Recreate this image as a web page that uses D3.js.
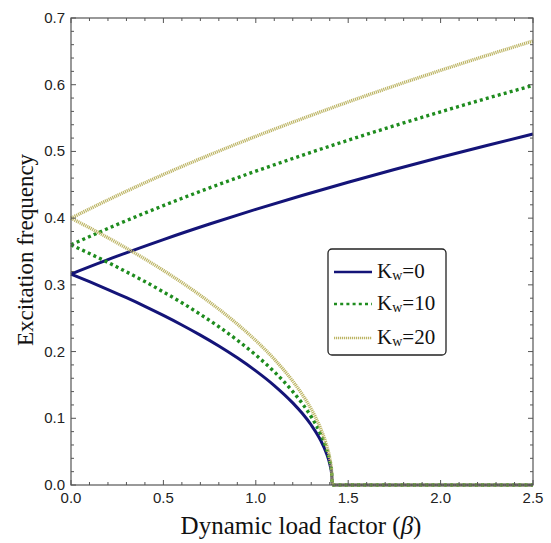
<!DOCTYPE html>
<html><head><meta charset="utf-8">
<script src="https://cdn.jsdelivr.net/npm/d3@7"></script>
<style>body{margin:0;background:#fff}svg{display:block}</style>
</head><body>
<svg id="c" width="551" height="543"></svg>
<script>
// Data
const betaUpper = [0, 0.25, 0.5, 0.75, 1.0, 1.25, 1.5, 1.75, 2.0, 2.25, 2.5];
const upperKw0  = [0.3162, 0.3430, 0.3679, 0.3912, 0.4132, 0.4340, 0.4539, 0.4730, 0.4913, 0.5090, 0.5261];
const upperKw10 = [0.3600, 0.3905, 0.4188, 0.4454, 0.4704, 0.4941, 0.5168, 0.5385, 0.5594, 0.5795, 0.5989];
const upperKw20 = [0.4000, 0.4339, 0.4654, 0.4948, 0.5226, 0.5490, 0.5742, 0.5983, 0.6215, 0.6439, 0.6655];

const betaLower = [0, 0.1, 0.2, 0.3, 0.4, 0.5, 0.6, 0.7, 0.8, 0.9, 1.0, 1.1, 1.2, 1.25, 1.3, 1.35, 1.38, 1.4, 1.41, 1.414, 2.5];
const lowerKw0  = [0.3162, 0.3048, 0.2930, 0.2807, 0.2678, 0.2542, 0.2399, 0.2247, 0.2084, 0.1907, 0.1711, 0.1491, 0.1231, 0.1078, 0.0899, 0.0674, 0.0492, 0.0318, 0.0173, 0, 0];
const lowerKw10 = [0.3600, 0.3470, 0.3336, 0.3195, 0.3049, 0.2894, 0.2732, 0.2558, 0.2372, 0.2171, 0.1948, 0.1697, 0.1401, 0.1227, 0.1023, 0.0767, 0.0560, 0.0362, 0.0197, 0, 0];
const lowerKw20 = [0.4000, 0.3856, 0.3706, 0.3550, 0.3388, 0.3216, 0.3035, 0.2842, 0.2636, 0.2412, 0.2165, 0.1886, 0.1557, 0.1363, 0.1137, 0.0852, 0.0622, 0.0402, 0.0219, 0, 0];

const seriesNames = ["0", "10", "20"];
const xTicks = [0, 0.5, 1.0, 1.5, 2.0, 2.5];
const yTicks = [0, 0.1, 0.2, 0.3, 0.4, 0.5, 0.6, 0.7];

const styles = [
  {color: "#141478", dash: null, width: 3},
  {color: "#1e8c1e", dash: "3,3.2", width: 3.4},
  {color: "#bdb565", dash: "1.2,0.8", width: 3.4}
];

const svg = d3.select("#c");
const L = 71, R = 533, T = 18, B = 485;
const x = d3.scaleLinear().domain([0, 2.5]).range([L, R]);
const y = d3.scaleLinear().domain([0, 0.7]).range([B, T]);

const frameColor = "#555";
const line = d3.line().x(d => x(d[0])).y(d => y(d[1]));
const lineU = d3.line().x(d => x(d[0])).y(d => y(d[1])).curve(d3.curveMonotoneX);

const uppers = [upperKw0, upperKw10, upperKw20];
const lowers = [lowerKw0, lowerKw10, lowerKw20];
const plot = svg.append("g");
for (let i = 0; i < 3; i++) {
  const st = styles[i];
  const up = betaUpper.map((b, j) => [b, uppers[i][j]]);
  const lo = betaLower.map((b, j) => [b, lowers[i][j]]);
  [lineU(up), lineU(lo.slice(0, 20)), line(lo.slice(19))].forEach(p => {
    plot.append("path").attr("d", p).attr("fill", "none")
      .attr("stroke", st.color).attr("stroke-width", st.width)
      .attr("stroke-dasharray", st.dash);
  });
}

// Frame
svg.append("rect").attr("x", L).attr("y", T).attr("width", R - L).attr("height", B - T)
  .attr("fill", "none").attr("stroke", frameColor).attr("stroke-width", 1.2);

// Ticks
const ax = svg.append("g").attr("stroke", frameColor).attr("stroke-width", 1);
const xMinor = d3.range(0, 2.5001, 0.1);
xMinor.forEach(v => {
  const major = xTicks.some(t => Math.abs(t - v) < 1e-6);
  const len = major ? 5 : 3;
  ax.append("line").attr("x1", x(v)).attr("x2", x(v)).attr("y1", B).attr("y2", B - len);
  ax.append("line").attr("x1", x(v)).attr("x2", x(v)).attr("y1", T).attr("y2", T + len);
});
const yMinor = d3.range(0, 0.7001, 0.02);
yMinor.forEach(v => {
  const major = yTicks.some(t => Math.abs(t - v) < 1e-6);
  const len = major ? 5 : 3;
  ax.append("line").attr("y1", y(v)).attr("y2", y(v)).attr("x1", L).attr("x2", L + len);
  ax.append("line").attr("y1", y(v)).attr("y2", y(v)).attr("x1", R).attr("x2", R - len);
});

const tickFont = "'Liberation Sans', Arial, sans-serif";
svg.append("g").selectAll("text").data(xTicks).join("text")
  .attr("x", d => x(d)).attr("y", 503).attr("text-anchor", "middle")
  .attr("font-family", tickFont).attr("font-size", 15).attr("fill", "#222")
  .text(d => d.toFixed(1));
svg.append("g").selectAll("text").data(yTicks).join("text")
  .attr("x", 65).attr("y", d => y(d) + 5).attr("text-anchor", "end")
  .attr("font-family", tickFont).attr("font-size", 15).attr("fill", "#222")
  .text(d => d.toFixed(1));

// Axis titles
const serif = "'Liberation Serif', 'Times New Roman', serif";
const xt = svg.append("text").attr("x", 301).attr("y", 534).attr("text-anchor", "middle")
  .attr("font-family", serif).attr("font-size", 25).attr("fill", "#111");
xt.append("tspan").text("Dynamic load factor (");
xt.append("tspan").attr("font-style", "italic").text("β");
xt.append("tspan").text(")");
svg.append("text").attr("transform", "translate(33,250) rotate(-90)").attr("text-anchor", "middle")
  .attr("font-family", serif).attr("font-size", 23).attr("fill", "#111")
  .text("Excitation frequency");

// Legend
const lg = svg.append("g");
lg.append("rect").attr("x", 328).attr("y", 249).attr("width", 118).attr("height", 106)
  .attr("rx", 4).attr("fill", "#fff").attr("stroke", "#222").attr("stroke-width", 1.3);
const rowsY = [272, 304, 338];
seriesNames.forEach((n, i) => {
  const st = styles[i];
  lg.append("line").attr("x1", 334).attr("x2", 372).attr("y1", rowsY[i]).attr("y2", rowsY[i])
    .attr("stroke", st.color).attr("stroke-width", i === 0 ? 2.4 : 2.6).attr("stroke-dasharray", st.dash);
  const t = lg.append("text").attr("x", 377).attr("y", rowsY[i] + 6)
    .attr("font-family", serif).attr("font-size", 21).attr("fill", "#111");
  t.append("tspan").text("K");
  t.append("tspan").attr("font-size", 14).attr("dy", 2).text("w");
  t.append("tspan").attr("dy", -2).text("=" + n);
});
</script>
</body></html>
